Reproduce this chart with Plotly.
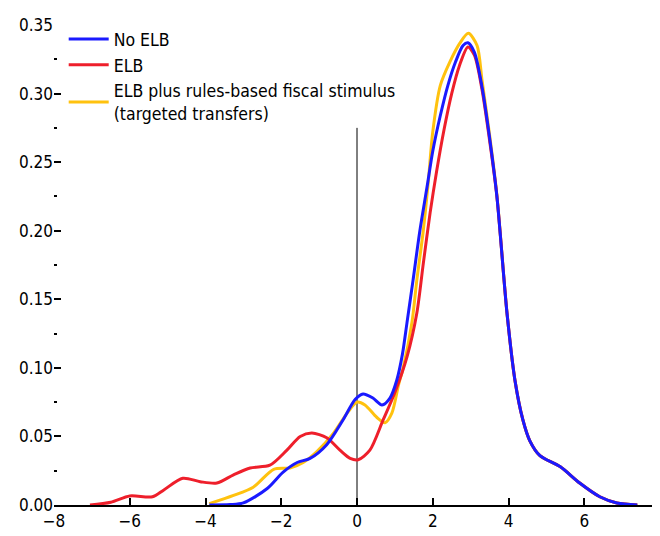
import plotly.graph_objects as go

# ---- data ----
no_elb_x = [-3.9, -3.35, -3.0, -2.37, -1.95, -1.58, -1.24, -0.8, -0.37, -0.05, 0.16, 0.42, 0.66, 0.87,
            1.05, 1.2, 1.32, 1.48, 1.66, 1.85, 2.0, 2.2, 2.4, 2.6, 2.8, 2.93, 3.1, 3.3, 3.5, 3.69, 3.96, 4.17,
            4.38, 4.56, 4.83, 5.36, 5.88, 6.41, 6.86, 7.4]
no_elb_y = [0.0, 0.0003, 0.0015, 0.012, 0.024, 0.031, 0.034, 0.044, 0.062, 0.077, 0.081, 0.078, 0.073, 0.078,
            0.091, 0.11, 0.133, 0.164, 0.2, 0.232, 0.258, 0.284, 0.306, 0.323, 0.335, 0.337, 0.33, 0.305, 0.268, 0.226, 0.14, 0.091,
            0.062, 0.047, 0.036, 0.028, 0.016, 0.006, 0.0015, 0.0]

elb_x = [-7.05, -6.5, -6.0, -5.4, -5.1, -4.6, -4.14, -3.7, -3.26, -2.82, -2.3, -1.85, -1.5, -1.19, -0.8,
         -0.45, -0.18, 0.03, 0.34, 0.69, 1.0, 1.32, 1.58, 1.75, 1.93, 2.1, 2.3, 2.5, 2.7, 2.93, 3.1, 3.3, 3.5,
         3.69, 3.96, 4.17, 4.38, 4.56, 4.83, 5.36, 5.88, 6.41, 6.86, 7.4]
elb_y = [0.0, 0.002, 0.0066, 0.006, 0.011, 0.0195, 0.017, 0.016, 0.022, 0.027, 0.029, 0.040, 0.050, 0.0525, 0.049,
         0.040, 0.034, 0.033, 0.040, 0.062, 0.082, 0.108, 0.14, 0.176, 0.213, 0.243, 0.274, 0.3, 0.32, 0.334, 0.328, 0.303, 0.266,
         0.226, 0.14, 0.091, 0.062, 0.047, 0.036, 0.028, 0.016, 0.006, 0.0015, 0.0]

fiscal_x = [-3.9, -3.26, -2.74, -2.2, -1.77, -1.42, -1.06, -0.63, -0.26, 0.0, 0.21, 0.52, 0.74, 0.92, 1.1,
            1.22, 1.45, 1.58, 1.75, 1.88, 2.0, 2.2, 2.45, 2.72, 2.94, 3.17, 3.3, 3.5, 3.69, 3.96, 4.17, 4.38,
            4.56, 4.83, 5.36, 5.88, 6.41, 6.86, 7.4]
fiscal_y = [0.001, 0.007, 0.013, 0.026, 0.027, 0.031, 0.039, 0.052, 0.067, 0.075, 0.073, 0.064, 0.060, 0.067, 0.088,
            0.10, 0.133, 0.164, 0.2, 0.235, 0.272, 0.306, 0.323, 0.337, 0.344, 0.335, 0.31, 0.27, 0.227, 0.14, 0.091, 0.062,
            0.047, 0.036, 0.028, 0.016, 0.006, 0.0015, 0.0]

series_names = ["No ELB", "ELB", "ELB plus rules-based fiscal stimulus<br>(targeted transfers)"]
zero_line_top = 0.275

x_ticks = [-8, -6, -4, -2, 0, 2, 4, 6, 8]
y_ticks = [0.00, 0.05, 0.10, 0.15, 0.20, 0.25, 0.30, 0.35]

FONT = "DejaVu Sans Condensed, Liberation Sans Narrow, Liberation Sans, sans-serif"
BLUE = "#1a1aff"
RED = "#ee1f2b"
YELLOW = "#ffc20e"

fig = go.Figure()
fig.add_trace(go.Scatter(x=fiscal_x, y=fiscal_y, name=series_names[2], mode="lines",
                         line=dict(color=YELLOW, width=3, shape="spline", smoothing=0.8), legendrank=3))
fig.add_trace(go.Scatter(x=elb_x, y=elb_y, name=series_names[1], mode="lines",
                         line=dict(color=RED, width=3, shape="spline", smoothing=0.8), legendrank=2))
fig.add_trace(go.Scatter(x=no_elb_x, y=no_elb_y, name=series_names[0], mode="lines",
                         line=dict(color=BLUE, width=3, shape="spline", smoothing=0.8), legendrank=1))

fig.add_shape(type="line", x0=0, x1=0, y0=0, y1=zero_line_top, xref="x", yref="y",
              line=dict(color="black", width=1), layer="below")

fig.update_layout(
    width=660, height=536,
    margin=dict(l=46, r=8, t=17, b=39, autoexpand=False),
    plot_bgcolor="white", paper_bgcolor="white",
    font=dict(family=FONT, size=17, color="black"),
    showlegend=True,
    legend=dict(x=0.016, y=1.008, xanchor="left", yanchor="top", bgcolor="rgba(0,0,0,0)",
                font=dict(family=FONT, size=17.5), tracegroupgap=0, itemwidth=40),
    xaxis=dict(range=[-8, 8], tickvals=x_ticks, ticks="inside", ticklen=7, tickwidth=1.5,
               tickcolor="black", showline=True, linecolor="black", linewidth=2,
               showgrid=False, zeroline=False, automargin=False),
    yaxis=dict(range=[0, 0.35], tickvals=y_ticks, tickformat=".2f", ticks="inside", ticklen=7,
               tickwidth=1.5, tickcolor="black", showline=False, showgrid=False, zeroline=False,
               automargin=False,
               minor=dict(ticks="inside", ticklen=3, tickwidth=1.5, tickcolor="black", dtick=0.025,
                          tick0=0, showgrid=False)),
)

fig.write_html("out.html")
